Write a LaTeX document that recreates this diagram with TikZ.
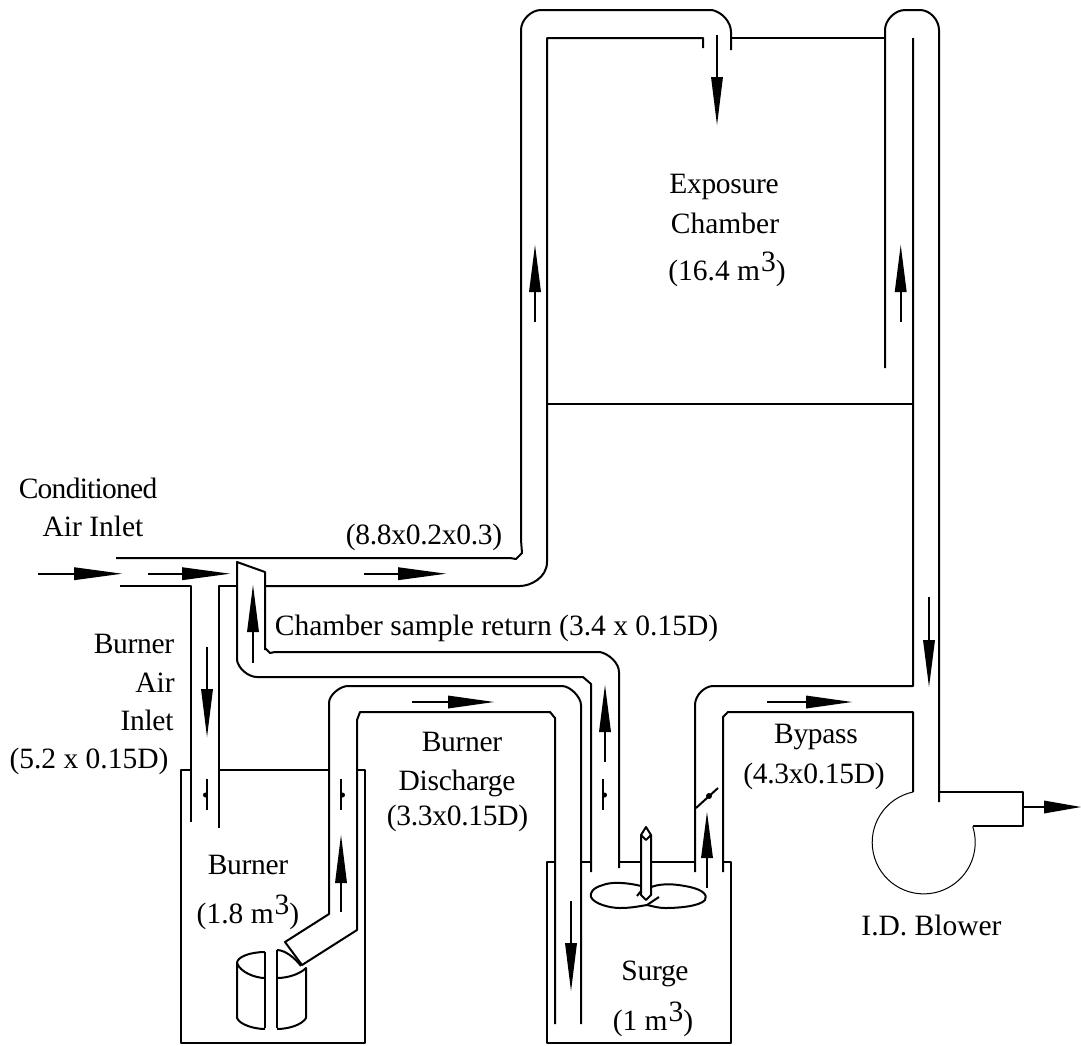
\documentclass[tikz,border=0pt]{standalone}
\usepackage{fontspec}
\setmainfont{Liberation Serif}
\newcommand{\arrowv}[4]{% x, tail y, head base y, tip y
  \draw[duct] (#1,#2) -- (#1,#3);
  \fill (#1-6,#3) -- (#1+6,#3) -- (#1,#4) -- cycle;}
\newcommand{\arrowh}[4]{% y, tail x, head base x, tip x
  \draw[duct] (#2,#1) -- (#3,#1);
  \fill (#3,#1-6.5) -- (#3,#1+6.5) -- (#4,#1) -- cycle;}
\newcommand{\cubed}{\hspace{1pt}\raisebox{8.5pt}{3}}
\newcommand{\tighter}{\addfontfeature{LetterSpace=-1}}
\newcommand{\tightest}{\addfontfeature{LetterSpace=-2.5}}
\begin{document}
\begin{tikzpicture}[x=1pt,y=-1pt,
  duct/.style={line width=2pt,line join=round},
  thin outline/.style={line width=1pt},
  lbl/.style={anchor=base,inner sep=0pt,font=\fontsize{29.5}{35}\selectfont,text=black}]
\useasboundingbox (0,0) rectangle (1081,1045);
\fill[white] (0,0) rectangle (1081,1045);
% main duct to the chamber
\draw[duct] (116,558) -- (510,558) -- (516,559) -- (522,553) -- (521,540) -- (521,30)
  .. controls (521,20) and (531,10) .. (541,10) -- (712,10)
  .. controls (722,12) and (731,22) .. (731,32) -- (731,50);
\draw[duct] (265,586) -- (520,586) .. controls (530,586) and (547,578) .. (547,562)
  -- (547,38) -- (703,38) -- (703,48);
\draw[duct] (731,38) -- (885,38);
\draw[duct] (885,368) -- (885,30) .. controls (885,20) and (895,10) .. (905,10) -- (920,10)
  .. controls (930,10) and (939,20) .. (939,30) -- (939,802);
\draw[duct] (913,38) -- (913,686) -- (713,686) .. controls (705,686) and (695,695) .. (695,705) -- (695,872);
\draw[duct] (547,404) -- (913,404);
\draw[duct] (723,872) -- (723,717) -- (728,712) -- (913,712) -- (913,792);
% blower
\draw[thin outline] (913,792) arc[start angle=102,end angle=378,radius=51.5pt];
\draw[duct] (939,792) -- (1023,792) -- (1023,826) -- (973,826);
% burner air inlet
\draw[duct] (120,586) -- (191,586) -- (191,822);
\draw[duct] (219,828) -- (219,586) -- (237,586);
% sample return
\draw[duct] (265,650) -- (265,572) -- (237,562) -- (237,660)
  .. controls (238,668) and (248,677) .. (257,677) -- (583,677) -- (591,684) -- (591,872);
\draw[duct] (265,648) -- (270,653) -- (275,652) -- (600,652)
  .. controls (609,654) and (619,663) .. (619,672) -- (619,868);
% burner discharge
\draw[duct] (581,1024) -- (581,705) .. controls (581,697) and (570,686) .. (562,686) -- (348,686)
  .. controls (340,686) and (329,695) .. (329,703) -- (329,914) -- (285,942) -- (302,965) -- (357,930)
  -- (357,720) -- (360,712) -- (550,712) -- (555,718) -- (555,1024);
% boxes
\draw[duct] (191,770) -- (181,770) -- (181,1043) -- (365,1043) -- (365,770) -- (357,770);
\draw[duct] (219,770) -- (329,770);
\draw[duct] (555,862) -- (547,862) -- (547,1043) -- (731,1043) -- (731,862) -- (723,862);
\draw[duct] (581,862) -- (591,862);
\draw[duct] (619,862) -- (641,862);
\draw[duct] (651,862) -- (695,862);
% burner can
\draw[duct] (265,952) .. controls (250,952) and (237,957) .. (237,963) -- (237,1018)
  .. controls (240,1025) and (255,1029) .. (265,1029);
\draw[duct] (237,963) .. controls (240,972) and (255,978) .. (265,978);
\draw[duct] (265,952) -- (265,1028);
\draw[duct] (277,950) -- (277,1028);
\draw[duct] (277,950) .. controls (285,950) and (295,958) .. (301,966);
\draw[duct] (277,978) .. controls (288,978) and (300,974) .. (306,968) -- (306,1018)
  .. controls (302,1025) and (288,1029) .. (277,1029);
% surge pipe and lobes
\draw[duct] (641,895) -- (641,835) -- (646,827) -- (651,835) -- (651,895) -- (646,900) -- cycle;
\draw[duct] (641,835) -- (646,840) -- (651,835);
\draw[duct] (641,886) .. controls (625,882) and (610,882) .. (603,885)
  .. controls (592,888) and (590,893) .. (591,897)
  .. controls (594,904) and (610,908) .. (620,908)
  .. controls (632,908) and (640,906) .. (647,905);
\draw[duct] (651,887) .. controls (665,882) and (680,885) .. (690,887)
  .. controls (703,890) and (708,895) .. (705,900)
  .. controls (700,906) and (680,908) .. (665,908)
  .. controls (658,908) and (652,906) .. (647,905);
\draw[duct] (647,905) -- (659,897);
\draw[duct] (637,896) -- (641,891);
% dampers
\draw[duct] (207,779) -- (207,810);
\fill (205.5,795) circle[radius=2.5pt];
\draw[duct] (341,779) -- (341,810);
\fill (342.5,795) circle[radius=2.5pt];
\draw[duct] (603,779) -- (603,810);
\fill (604.5,795) circle[radius=2.5pt];
\draw[duct] (696,808) -- (718,788);
\fill (709,796) circle[radius=3pt];
% arrows
\arrowh{573.7}{38}{74}{122}
\arrowh{573.7}{148}{182}{230}
\arrowh{573.7}{364}{398}{446}
\arrowh{702}{412}{448}{494}
\arrowh{702}{767}{806}{852}
\arrowh{807}{1023}{1044}{1081}
\arrowv{717}{35}{77}{125}
\arrowv{535}{322}{292}{245}
\arrowv{900.7}{322}{292}{245}
\arrowv{253}{663}{632}{585}
\arrowv{207}{647}{689}{737}
\arrowv{341}{912}{883}{835}
\arrowv{605}{762}{732}{685}
\arrowv{707}{888}{858}{812}
\arrowv{929}{597}{640}{687}
\arrowv{571}{901}{943}{991}
% labels
\node[lbl] (tcond) at (88,498) {\tightest Conditioned};
\node[lbl] (tair) at (93,536) {Air Inlet};
\node[lbl] (tmain) at (424,544) {\tighter (8.8x0.2x0.3)};
\node[lbl] (tba1) at (134,653) {\tighter Burner};
\node[lbl] (tba2) at (155,692) {Air};
\node[lbl] (tba3) at (147,730) {\tighter Inlet};
\node[lbl] (tba4) at (89,768) {(5.2 x 0.15D)};
\node[lbl] (tret) at (496.5,635) {Chamber sample return (3.4 x 0.15D)};
\node[lbl] (tbd1) at (462,751) {\tighter Burner};
\node[lbl] (tbd2) at (457,790) {\tighter Discharge};
\node[lbl] (tbd3) at (457.5,825) {\tighter (3.3x0.15D)};
\node[lbl] (tb1) at (248,874) {\tighter Burner};
\node[lbl] (tb2) at (248,923) {(1.8 m\cubed)};
\node[lbl] (ts1) at (655,980) {\tighter Surge};
\node[lbl] (ts2) at (653,1030) {(1 m\cubed)};
\node[lbl] (te1) at (724,193) {\tighter Exposure};
\node[lbl] (te2) at (725,233) {Chamber};
\node[lbl] (te3) at (727,280) {(16.4 m\cubed)};
\node[lbl] (tby1) at (816,743) {\tighter Bypass};
\node[lbl] (tby2) at (814,783) {\tighter (4.3x0.15D)};
\node[lbl] (tid) at (931.5,935) {I.D. Blower};
\end{tikzpicture}
\end{document}
